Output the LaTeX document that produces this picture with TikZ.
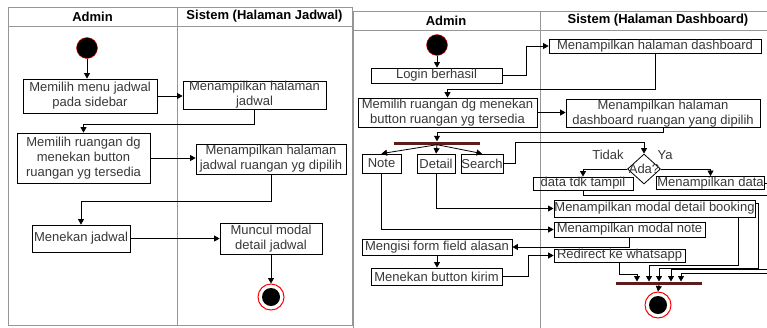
\documentclass[tikz,border=0pt]{standalone}
\usepackage{fontspec}
\setmainfont{Liberation Sans}
\usetikzlibrary{arrows.meta, shapes.geometric, positioning}
\definecolor{barred}{RGB}{92,28,28}
\definecolor{boxtext}{RGB}{55,55,55}
\definecolor{lanegray}{RGB}{150,150,150}

\begin{document}
\begin{tikzpicture}[x=1pt, y=-1pt,
    act/.style={draw, rectangle, line width=0.8pt, inner sep=0.5pt, align=center, text=boxtext, font=\fontsize{13}{15}\selectfont},
    flow/.style={-{Triangle[width=6pt,length=5.5pt]}, line width=0.8pt},
    lane/.style={draw=lanegray, line width=0.8pt},
    head/.style={font=\bfseries\fontsize{13}{15}\selectfont},
    note/.style={text=boxtext, font=\fontsize{13}{15}\selectfont},
    start/.style={circle, draw=red, fill=black, minimum size=21, inner sep=0},
    final/.style={circle, draw=red, line width=1pt, fill=white, minimum size=26, inner sep=0,
        path picture={\fill[black] (path picture bounding box.center) circle (9);}},
    bar/.style={rectangle, fill=barred, minimum width=86, minimum height=3, inner sep=0},
    decision/.style={diamond, draw, line width=0.8pt, minimum width=33, minimum height=30, inner sep=0,
        label={[note]center:Ada?}}
    ]
    \useasboundingbox (0,0) rectangle (767,327);
    \clip (0,0) rectangle (767,327);

    % swimlane kiri
    \draw[lane] (8,7) rectangle (352,325);
    \draw[lane] (8,26) -- (352,26);
    \draw[lane] (177,7) -- (177,325);
    \node[head] (hAdminL) at (92.5,16.5) {Admin};
    \node[head] (hSistemL) at (264.5,16.5) {Sistem (Halaman Jadwal)};

    % swimlane kanan
    \draw[lane] (775,11) -- (353,11) -- (353,335);
    \draw[lane] (353,30) -- (775,30);
    \draw[lane] (540,11) -- (540,335);
    \node[head] (hAdminR) at (446,20.5) {Admin};
    \node[head] (hSistemR) at (658,20.5) {Sistem (Halaman Dashboard)};

    % aktivitas halaman jadwal
    \node[start] (startL) at (87,48) {};
    \node[act, minimum width=134, minimum height=34] (a1) at (90,96) {Memilih menu jadwal\\pada sidebar};
    \node[act, minimum width=143, minimum height=28] (s1) at (254.5,95) {Menampilkan halaman\\jadwal};
    \node[act, minimum width=133, minimum height=50] (a2) at (83.5,158) {Memilih ruangan dg\\menekan button\\ruangan yg tersedia};
    \node[act, minimum width=150, minimum height=30] (s2) at (271,159) {Menampilkan halaman\\jadwal ruangan yg dipilih};
    \node[act, minimum width=98, minimum height=27] (a3) at (81,238.5) {Menekan jadwal};
    \node[act, minimum width=102, minimum height=31] (s3) at (271,238.5) {Muncul modal\\detail jadwal};
    \node[final] (endL) at (271,297) {};

    \draw[flow] (startL.south) -- (startL.south |- a1.north);
    \draw[flow] (a1.east) -- (a1.east -| s1.west);
    \draw[flow] (s1.south) -- ++(0,15) -| (a2.north);
    \draw[flow] (a2.east) -- (a2.east -| s2.west);
    \draw[flow] (s2.south) -- ++(0,27) -| (a3.north);
    \draw[flow] (a3.east) -- (a3.east -| s3.west);
    \draw[flow] (s3.south) -- (endL.north);

    % aktivitas halaman dashboard
    \node[start] (startR) at (437,45) {};
    \node[act, minimum width=131, minimum height=15] (login) at (436.5,75.5) {Login berhasil};
    \node[act, minimum width=212, minimum height=14] (dash) at (655,46) {Menampilkan halaman dashboard};
    \node[act, minimum width=179, minimum height=29] (pilih) at (447.5,112.5) {Memilih ruangan dg menekan\\button ruangan yg tersedia};
    \node[act, minimum width=194, minimum height=27] (dashR) at (663,113.5) {Menampilkan halaman\\dashboard ruangan yang dipilih};
    \node[bar] (fork) at (437,143) {};
    \node[act, minimum width=39, minimum height=19] (noteA) at (381.5,163.5) {Note};
    \node[act, minimum width=38, minimum height=19] (detail) at (436,163.5) {Detail};
    \node[act, minimum width=40, minimum height=19] (search) at (482,163.5) {Search};
    \node[decision] (ada) at (644,169) {};
    \node[note] (tidak) at (608,155) {Tidak};
    \node[note] (ya) at (665,155) {Ya};
    \node[act, minimum width=100, minimum height=11] (tdk) at (583,183.5) {data tdk tampil};
    \node[act, minimum width=107, minimum height=12] (data) at (710.5,183) {Menampilkan data};
    \node[act, minimum width=201, minimum height=17] (booking) at (654.5,208.5) {Menampilkan modal detail booking};
    \node[act, minimum width=151, minimum height=15] (mnote) at (629.5,229.5) {Menampilkan modal note};
    \node[act, minimum width=150, minimum height=16] (form) at (437,247) {Mengisi form field alasan};
    \node[act, minimum width=131, minimum height=17] (kirim) at (436.5,276.5) {Menekan button kirim};
    \node[act, minimum width=131, minimum height=13] (wa) at (619.5,255.5) {Redirect ke whatsapp};
    \node[bar] (join) at (659,283) {};
    \node[final] (endR) at (658,305) {};

    \coordinate (sr) at (515,142);
    \coordinate (j1) at (637,281.5);
    \coordinate (j2) at (649,281.5);
    \coordinate (j3) at (659,281.5);
    \coordinate (j4) at (671,281.5);
    \coordinate (j5) at (681,281.5);

    \draw[flow] (startR.south) -- (startR.south |- login.north);
    \draw[flow] (login.east) -- ++(24,0) |- (dash.west);
    \draw[flow] (dash.south) -- ++(0,36) -| (pilih.north);
    \draw[flow] (pilih.east) -- (pilih.east -| dashR.west);
    \draw[flow] (dashR.south) -- ++(0,4) -| (fork.north);
    \draw[flow] (fork.south) -- (noteA.north);
    \draw[flow] (fork.south) -- (detail.north);
    \draw[flow] (fork.south) -- (search.north);
    \draw[flow] (search.east) -| (sr) -| (ada.north);
    \draw[flow] (ada.west) -| (tdk.north);
    \draw[flow] (ada.east) -| (data.north);
    \draw[flow] (detail.south) |- (booking.west);
    \draw[flow] (noteA.south) |- (mnote.west);
    \draw[flow] (mnote.south) |- (form.east);
    \draw[flow] (form.south) -- (form.south |- kirim.north);
    \draw[flow] (kirim.east) -- ++(26,0) |- (wa.west);

    % menuju join
    \draw[flow] (wa.south) -- ++(0,12) -| (j1);
    \draw[flow] ([xshift=-17pt]booking.south east) -- ++(0,48) -| (j2);
    \draw[flow] ([yshift=5pt]booking.east) -- ++(3,0) -- ++(0,64.5) -| (j3);
    \draw[flow] (data.east) -- ++(11,0) -- ++(0,86) -| (j4);
    \draw[flow] (tdk.south) -- ++(0,5) -- ++(197,0) -- ++(0,78) -| (j5);
    \draw[flow] (join.south) -- (endR.north);

    \end{tikzpicture}
\end{document}
